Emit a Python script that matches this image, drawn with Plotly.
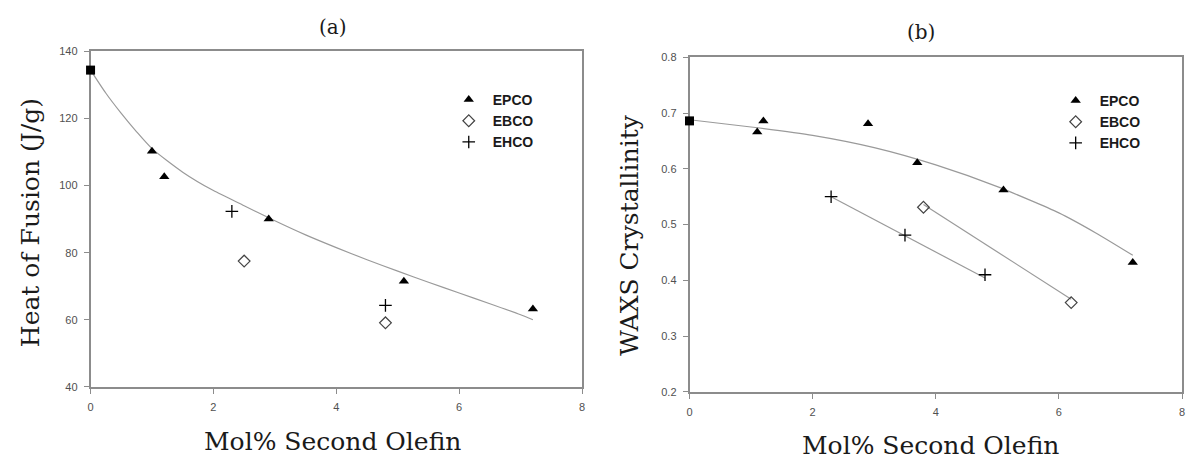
import plotly.graph_objects as go

# ---- Panel (a): heat of fusion ----
a_eco_x = [0]
a_eco_y = [134.4]
a_epco_x = [1.0, 1.2, 2.9, 5.1, 7.2]
a_epco_y = [110.2, 102.6, 90.0, 71.5, 63.2]
a_ebco_x = [2.5, 4.8]
a_ebco_y = [77.5, 59.1]
a_ehco_x = [2.3, 4.8]
a_ehco_y = [92.3, 64.3]
a_fit_x = [0, 0.25, 0.5, 0.75, 1.0, 1.5, 2.0, 2.5, 3.0, 3.5, 4.0, 4.5, 5.0, 5.5, 6.0, 6.5, 7.0, 7.2]
a_fit_y = [134.4, 127.5, 121.5, 116.0, 111.0, 104.0, 98.5, 94.0, 89.5, 85.3, 81.5, 77.9, 74.5, 71.2, 68.0, 64.8, 61.5, 60.0]

# ---- Panel (b): WAXS crystallinity ----
b_eco_x = [0]
b_eco_y = [0.686]
b_epco_x = [1.1, 1.2, 2.9, 3.7, 5.1, 7.2]
b_epco_y = [0.666, 0.686, 0.681, 0.611, 0.562, 0.432]
b_ebco_x = [3.8, 6.2]
b_ebco_y = [0.531, 0.360]
b_ehco_x = [2.3, 3.5, 4.8]
b_ehco_y = [0.550, 0.481, 0.410]
b_fit_epco_x = [0, 1, 2, 3, 4, 5, 6, 6.6, 7.2]
b_fit_epco_y = [0.688, 0.675, 0.660, 0.638, 0.607, 0.568, 0.521, 0.485, 0.445]
b_fit_ebco_x = [3.8, 6.2]
b_fit_ebco_y = [0.536, 0.366]
b_fit_ehco_x = [2.3, 4.8]
b_fit_ehco_y = [0.550, 0.404]

x_ticks = [0, 2, 4, 6, 8]
a_y_ticks = [40, 60, 80, 100, 120, 140]
b_y_ticks = [0.2, 0.3, 0.4, 0.5, 0.6, 0.7, 0.8]
b_y_labels = ["0.2", "0.3", "0.4", "0.5", "0.6", "0.7", "0.8"]

SERIF = "DejaVu Serif"
SANS = "Liberation Sans"
FIT = dict(color="#9a9a9a", width=1.2, shape="spline", smoothing=0.6)

tri = dict(symbol="triangle-up", size=9, color="black")
dia = dict(symbol="diamond-open", size=9, color="#444", line=dict(width=1.2, color="#444"))
crs = dict(symbol="cross-thin-open", size=9, color="black", line=dict(width=1.3, color="black"))
sq = dict(symbol="square", size=9, color="black")

fig = go.Figure()


def pts(x, y, marker, xa, ya, name=None, legend=None):
    kw = dict(x=x, y=y, mode="markers", marker=marker, xaxis=xa, yaxis=ya, cliponaxis=False)
    if name:
        kw.update(name=name, legend=legend)
    else:
        kw.update(showlegend=False)
    return go.Scatter(**kw)


# panel a
fig.add_trace(go.Scatter(x=a_fit_x, y=a_fit_y, mode="lines", line=FIT, showlegend=False, xaxis="x", yaxis="y"))
fig.add_trace(pts(a_eco_x, a_eco_y, sq, "x", "y"))
fig.add_trace(pts(a_epco_x, a_epco_y, tri, "x", "y", "EPCO", "legend"))
fig.add_trace(pts(a_ebco_x, a_ebco_y, dia, "x", "y", "EBCO", "legend"))
fig.add_trace(pts(a_ehco_x, a_ehco_y, crs, "x", "y", "EHCO", "legend"))

# panel b
for fx, fy in [(b_fit_epco_x, b_fit_epco_y), (b_fit_ebco_x, b_fit_ebco_y), (b_fit_ehco_x, b_fit_ehco_y)]:
    fig.add_trace(go.Scatter(x=fx, y=fy, mode="lines", line=FIT, showlegend=False, xaxis="x2", yaxis="y2"))
fig.add_trace(pts(b_eco_x, b_eco_y, sq, "x2", "y2"))
fig.add_trace(pts(b_epco_x, b_epco_y, tri, "x2", "y2", "EPCO", "legend2"))
fig.add_trace(pts(b_ebco_x, b_ebco_y, dia, "x2", "y2", "EBCO", "legend2"))
fig.add_trace(pts(b_ehco_x, b_ehco_y, crs, "x2", "y2", "EHCO", "legend2"))

W, H = 1186, 466


def ax(domain, rng, ticks, anchor, labels=None):
    d = dict(domain=domain, range=rng, tickvals=ticks, anchor=anchor,
             showline=True, linecolor="#8c8c8c", linewidth=1.6, mirror=True,
             ticks="outside", ticklen=5, tickcolor="#8c8c8c", tickwidth=1.2,
             ticklabelstandoff=4, layer="below traces",
             showgrid=False, zeroline=False,
             tickfont=dict(family=SANS, size=11, color="#505050"))
    if labels:
        d["ticktext"] = labels
    return d


legfont = dict(family=SANS, size=14, color="#1a1a1a", weight="bold")


def leg(x, y):
    return dict(x=x / W, y=(H - y) / H, xanchor="left", yanchor="top",
                bgcolor="rgba(0,0,0,0)", font=legfont, itemwidth=38,
                tracegroupgap=0, borderwidth=0)


def txt(s, x, y, size, angle=0):
    return dict(text=s, x=x / W, y=(H - y) / H, xref="paper", yref="paper",
                xanchor="center", yanchor="middle", showarrow=False, textangle=angle,
                font=dict(family=SERIF, size=size, color="#1a1a1a"))


fig.update_layout(
    width=W, height=H,
    margin=dict(l=0, r=0, t=0, b=0),
    paper_bgcolor="white", plot_bgcolor="white",
    xaxis=ax([88 / W, 582 / W], [0, 8], x_ticks, "y"),
    yaxis=ax([(H - 391) / H, (H - 46.5) / H], [40, 140], a_y_ticks, "x"),
    xaxis2=ax([690 / W, 1185 / W], [0, 8], x_ticks, "y2"),
    yaxis2=ax([(H - 396) / H, (H - 52.7) / H], [0.2, 0.8], b_y_ticks, "x2", b_y_labels),
    legend=leg(444, 80),
    legend2=leg(1054, 81),
    annotations=[
        txt("(a)", 332, 22, 20),
        txt("(b)", 923, 27, 20),
        txt("Heat of Fusion (J/g)", 27, 222, 25, -90),
        txt("WAXS Crystallinity", 630, 235, 25, -90),
        txt("Mol% Second Olefin", 331, 447, 25),
        txt("Mol% Second Olefin", 932, 451, 25),
    ],
)

fig.write_html("out.html", config={"displayModeBar": False},
               post_script="document.body.style.margin='0';document.body.style.overflow='hidden';")
